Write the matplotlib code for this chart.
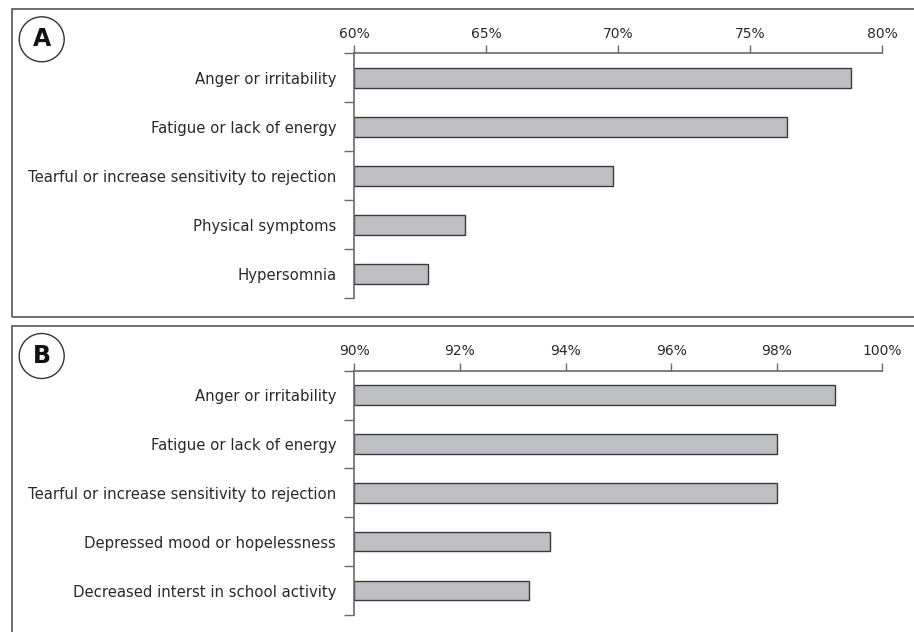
import matplotlib
matplotlib.use("Agg")
import matplotlib.pyplot as plt
from matplotlib.patches import Rectangle, Ellipse
from matplotlib.ticker import FixedLocator, FuncFormatter

# panel A
labels_a = ["Anger or irritability", "Fatigue or lack of energy",
            "Tearful or increase sensitivity to rejection",
            "Physical symptoms", "Hypersomnia"]
values_a = [78.8, 76.4, 69.8, 64.2, 62.8]
ticks_a = [60, 65, 70, 75, 80]

# panel B
labels_b = ["Anger or irritability", "Fatigue or lack of energy",
            "Tearful or increase sensitivity to rejection",
            "Depressed mood or hopelessness",
            "Decreased interst in school activity"]
values_b = [99.1, 98.0, 98.0, 93.7, 93.3]
ticks_b = [90, 92, 94, 96, 98, 100]

W, H = 914, 632
BAR_FILL = "#bebfc3"
BAR_EDGE = "#3a3a3a"
AXIS_COL = "#6a6a6a"
TEXT_COL = "#2a2a2a"

fig = plt.figure(figsize=(W / 100, H / 100), dpi=100)


def px_axes(left, top, right, bottom):
    # axes box given in pixels measured from the top-left corner
    return fig.add_axes([left / W, 1 - bottom / H, (right - left) / W, (bottom - top) / H])


def draw_panel(ax, labels, values, ticks):
    base = ticks[0]
    y = list(range(len(labels)))
    ax.barh(y, [v - base for v in values], left=base, height=0.4,
            color=BAR_FILL, edgecolor=BAR_EDGE, linewidth=1.0)
    ax.set_xlim(ticks[0], ticks[-1])
    ax.set_ylim(len(labels) - 0.5, -0.5)
    for s in ["right", "bottom"]:
        ax.spines[s].set_visible(False)
    for s in ["top", "left"]:
        ax.spines[s].set_color(AXIS_COL)
        ax.spines[s].set_linewidth(1.2)
    ax.xaxis.tick_top()
    ax.set_xticks(ticks)
    ax.xaxis.set_major_formatter(FuncFormatter(lambda v, p: f"{v:.0f}%"))
    ax.tick_params(axis="x", direction="out", length=6, width=1, color=AXIS_COL,
                   labelsize=10, labelcolor=TEXT_COL, pad=3)
    ax.set_yticks(y)
    ax.set_yticklabels(labels)
    ax.yaxis.set_minor_locator(FixedLocator([i - 0.5 for i in range(len(labels) + 1)]))
    ax.tick_params(axis="y", which="major", length=0, labelsize=10.7,
                   labelcolor=TEXT_COL, pad=13)
    ax.tick_params(axis="y", which="minor", direction="out", length=7, width=1,
                   color=AXIS_COL)
    ax.patch.set_alpha(0)


def panel_frame(x0, y0, x1, y1, letter, cx, cy):
    fig.patches.append(Rectangle((x0 / W, 1 - y1 / H), (x1 - x0) / W, (y1 - y0) / H,
                                 transform=fig.transFigure, fill=False,
                                 edgecolor="#555555", linewidth=1.2))
    fig.patches.append(Ellipse((cx / W, 1 - cy / H), 45 / W, 45 / H,
                               transform=fig.transFigure, fill=False,
                               edgecolor="#333333", linewidth=1.0))
    fig.text(cx / W, 1 - cy / H, letter, ha="center", va="center",
             fontsize=17, fontweight="bold", color="#111111")


panel_frame(12, 9, 930, 317, "A", 41.7, 39.3)
panel_frame(12, 325.7, 930, 650, "B", 41.7, 356)

ax_a = px_axes(354.3, 53.3, 882.3, 298.3)
draw_panel(ax_a, labels_a, values_a, ticks_a)

ax_b = px_axes(354.3, 370.7, 882.3, 615)
draw_panel(ax_b, labels_b, values_b, ticks_b)

fig.savefig("out.png", dpi=100)
